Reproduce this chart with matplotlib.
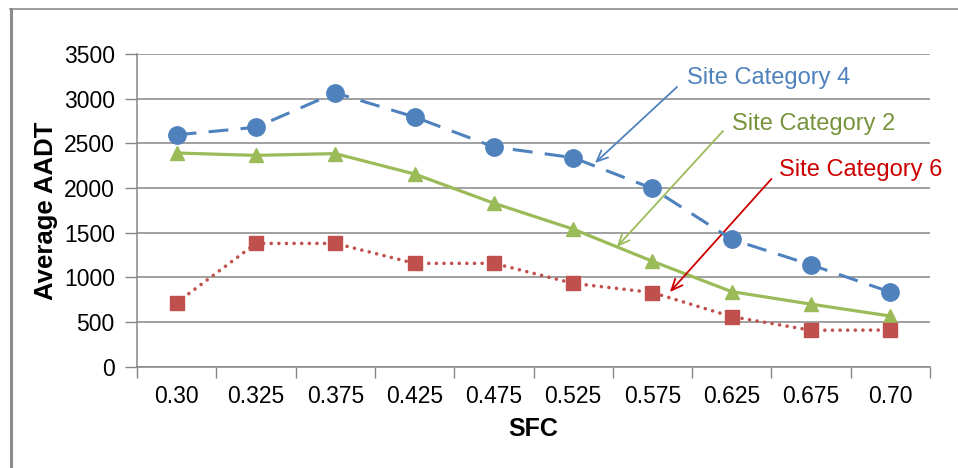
import matplotlib
matplotlib.use("Agg")
import matplotlib.pyplot as plt
from matplotlib.lines import Line2D

plt.rcParams['font.family'] = ['Liberation Sans', 'DejaVu Sans']

categories = ["0.30", "0.325", "0.375", "0.425", "0.475", "0.525", "0.575", "0.625", "0.675", "0.70"]
site_cat4 = [2595, 2680, 3065, 2795, 2460, 2340, 1995, 1425, 1140, 835]
site_cat2 = [2392, 2365, 2385, 2157, 1830, 1540, 1180, 840, 700, 567]
site_cat6 = [716, 1380, 1380, 1157, 1157, 933, 830, 560, 408, 410]
yticks = [0, 500, 1000, 1500, 2000, 2500, 3000, 3500]

BLUE = "#4F81BD"
GREEN = "#9BBB59"
RED = "#C0504D"
GRID = "#868686"

fig = plt.figure(figsize=(9.58, 4.68), dpi=100)
ax = fig.add_axes([137/958, 1-366.7/468, (930-137)/958, (366.7-54)/468])

x = list(range(len(categories)))
ax.plot(x, site_cat4, color=BLUE, lw=2.2, ls=(0, (6.5, 4)), marker='o', ms=12.5,
        markeredgecolor=BLUE, zorder=4)
ax.plot(x, site_cat2, color=GREEN, lw=2.3, ls='-', marker='^', ms=10,
        markeredgecolor=GREEN, zorder=3)
ax.plot(x, site_cat6, color=RED, lw=2.6, ls=(0, (0.01, 2.1)), dash_capstyle='round',
        marker='s', ms=10, markeredgecolor=RED, zorder=3)

ax.set_xlim(-0.5, len(categories) - 0.5)
ax.set_ylim(0, 3500)
ax.set_yticks(yticks)
ax.set_yticklabels([str(v) for v in yticks])
ax.set_xticks(x)
ax.set_xticklabels(categories)
ax.set_xticks([i + 0.5 for i in range(-1, len(categories))], minor=True)
ax.tick_params(axis='x', which='major', length=0, pad=13, labelsize=16.5)
ax.tick_params(axis='x', which='minor', length=8, width=1, color=GRID, direction='out')
ax.tick_params(axis='y', length=9, width=1, color=GRID, pad=7, labelsize=16.5)

ax.grid(axis='y', color=GRID, lw=1.1)
ax.set_axisbelow(True)
for s in ['top', 'right']:
    ax.spines[s].set_visible(False)
for s in ['left', 'bottom']:
    ax.spines[s].set_color(GRID)
    ax.spines[s].set_linewidth(1.1)

ax.set_xlabel("SFC", fontsize=18, fontweight='bold', labelpad=7)
ax.set_ylabel("Average AADT", fontsize=18.5, fontweight='bold', labelpad=4)

# annotations
ann = [
    ("Site Category 4", BLUE, BLUE, (6.44, 3230), (6.31, 3131), (5.275, 2280)),
    ("Site Category 2", "#77933C", GREEN, (7.0, 2716), (6.89, 2638), (5.55, 1340)),
    ("Site Category 6", "#CC0000", "#CC0000", (7.6, 2200), (7.5, 2101), (6.22, 836)),
]
for label, tcol, acol, tpos, tail, head in ann:
    ax.text(tpos[0], tpos[1], label, color=tcol, fontsize=17, va='center', ha='left')
    ax.annotate('', xy=head, xytext=tail,
                arrowprops=dict(arrowstyle='->,head_length=0.8,head_width=0.35',
                                color=acol, lw=1.3, shrinkA=0, shrinkB=0))

# outer frame
fig.add_artist(Line2D([10.5/958, 10.5/958], [0, 1-9/468], color="#8C8C8C", lw=2.2,
                      transform=fig.transFigure))
fig.add_artist(Line2D([10/958, 1], [1-9/468, 1-9/468], color="#8C8C8C", lw=1.2,
                      transform=fig.transFigure))

fig.savefig("out.png", dpi=100)
